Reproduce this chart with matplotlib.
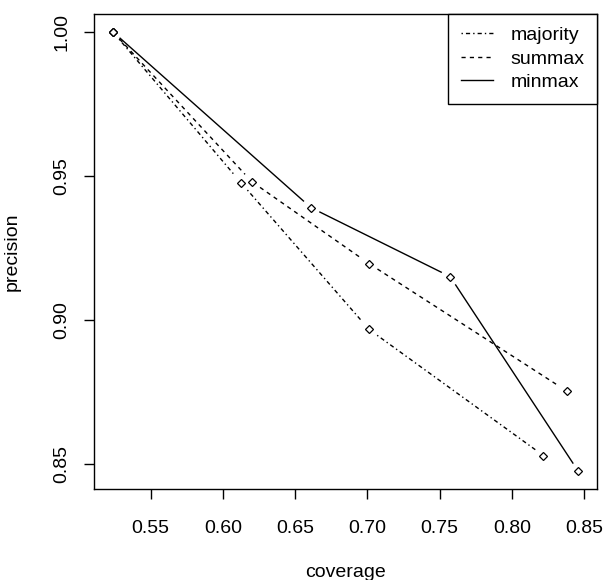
import numpy as np
import matplotlib
matplotlib.use("Agg")
import matplotlib.pyplot as plt
from matplotlib.lines import Line2D

plt.rcParams['font.family'] = ['Liberation Sans', 'DejaVu Sans']

# coverage / precision per method
majority_x = [0.5237, 0.6124, 0.7011, 0.8217]
majority_y = [1.0000, 0.9477, 0.8968, 0.8531]
summax_x = [0.5237, 0.6200, 0.7011, 0.8383]
summax_y = [1.0000, 0.9480, 0.9196, 0.8753]
minmax_x = [0.5237, 0.6609, 0.7572, 0.8459]
minmax_y = [1.0000, 0.9390, 0.9151, 0.8476]

names = ['majority', 'summax', 'minmax']
dashes = [(1.0, 2.2, 3.0, 2.2), (3.0, 3.0), None]

fig = plt.figure(figsize=(6.03, 5.80), dpi=100)
ax = fig.add_axes([94 / 603, 1 - 489 / 580, 503 / 603, 475 / 580])

all_x = np.array(majority_x + summax_x + minmax_x)
all_y = np.array(majority_y + summax_y + minmax_y)
xr = all_x.max() - all_x.min()
yr = all_y.max() - all_y.min()
ax.set_xlim(all_x.min() - 0.04 * xr, all_x.max() + 0.04 * xr)
ax.set_ylim(all_y.min() - 0.04 * yr, all_y.max() + 0.04 * yr)

ax.set_xticks([0.55, 0.60, 0.65, 0.70, 0.75, 0.80, 0.85])
ax.set_yticks([0.85, 0.90, 0.95, 1.00])
ax.set_xticklabels(['0.55', '0.60', '0.65', '0.70', '0.75', '0.80', '0.85'])
ax.set_yticklabels(['0.85', '0.90', '0.95', '1.00'])
ax.tick_params(axis='both', length=7.5, width=1, labelsize=14, color='black')
ax.tick_params(axis='x', pad=14.5)
ax.tick_params(axis='y', pad=9.5, labelrotation=90)
for lab in ax.get_yticklabels():
    lab.set_va('center')
for s in ax.spines.values():
    s.set_linewidth(1)

ax.set_xlabel('coverage', fontsize=14)
ax.set_ylabel('precision', fontsize=14)
ax.xaxis.label.set_va('baseline')
ax.xaxis.set_label_coords(0.5, -(577 - 489) / 475)
ax.yaxis.label.set_va('center')
ax.yaxis.set_label_coords(-(94 - 12) / 503, 0.5)

gap = 10  # pixels of empty space round each point, like R type="b"


def gapped(xs, ys, dash):
    pts = ax.transData.transform(np.column_stack([xs, ys]))
    inv = ax.transData.inverted()
    for p0, p1 in zip(pts[:-1], pts[1:]):
        d = p1 - p0
        L = np.hypot(*d)
        if L <= 2 * gap:
            continue
        u = d / L
        a = inv.transform(p0 + u * gap)
        b = inv.transform(p1 - u * gap)
        ln = Line2D([a[0], b[0]], [a[1], b[1]], color='black', lw=1)
        if dash:
            ln.set_dashes(dash)
        ax.add_line(ln)
    ax.plot(xs, ys, linestyle='none', marker='D', ms=4.5, mfc='white',
            mec='black', mew=0.9)


series = [(majority_x, majority_y), (summax_x, summax_y), (minmax_x, minmax_y)]
for (xs, ys), dash in zip(series, dashes):
    gapped(xs, ys, dash)

handles = []
for name, dash in zip(names, dashes):
    h = Line2D([], [], color='black', lw=1)
    if dash:
        h.set_dashes(dash)
    handles.append(h)
leg = ax.legend(handles, names, loc='upper right', fontsize=14, frameon=True,
                fancybox=False, edgecolor='black', framealpha=1,
                borderaxespad=0, handlelength=1.65, handletextpad=0.9,
                labelspacing=0.3, borderpad=0.65)
leg.get_frame().set_linewidth(1)

fig.savefig('out.png', dpi=100)
